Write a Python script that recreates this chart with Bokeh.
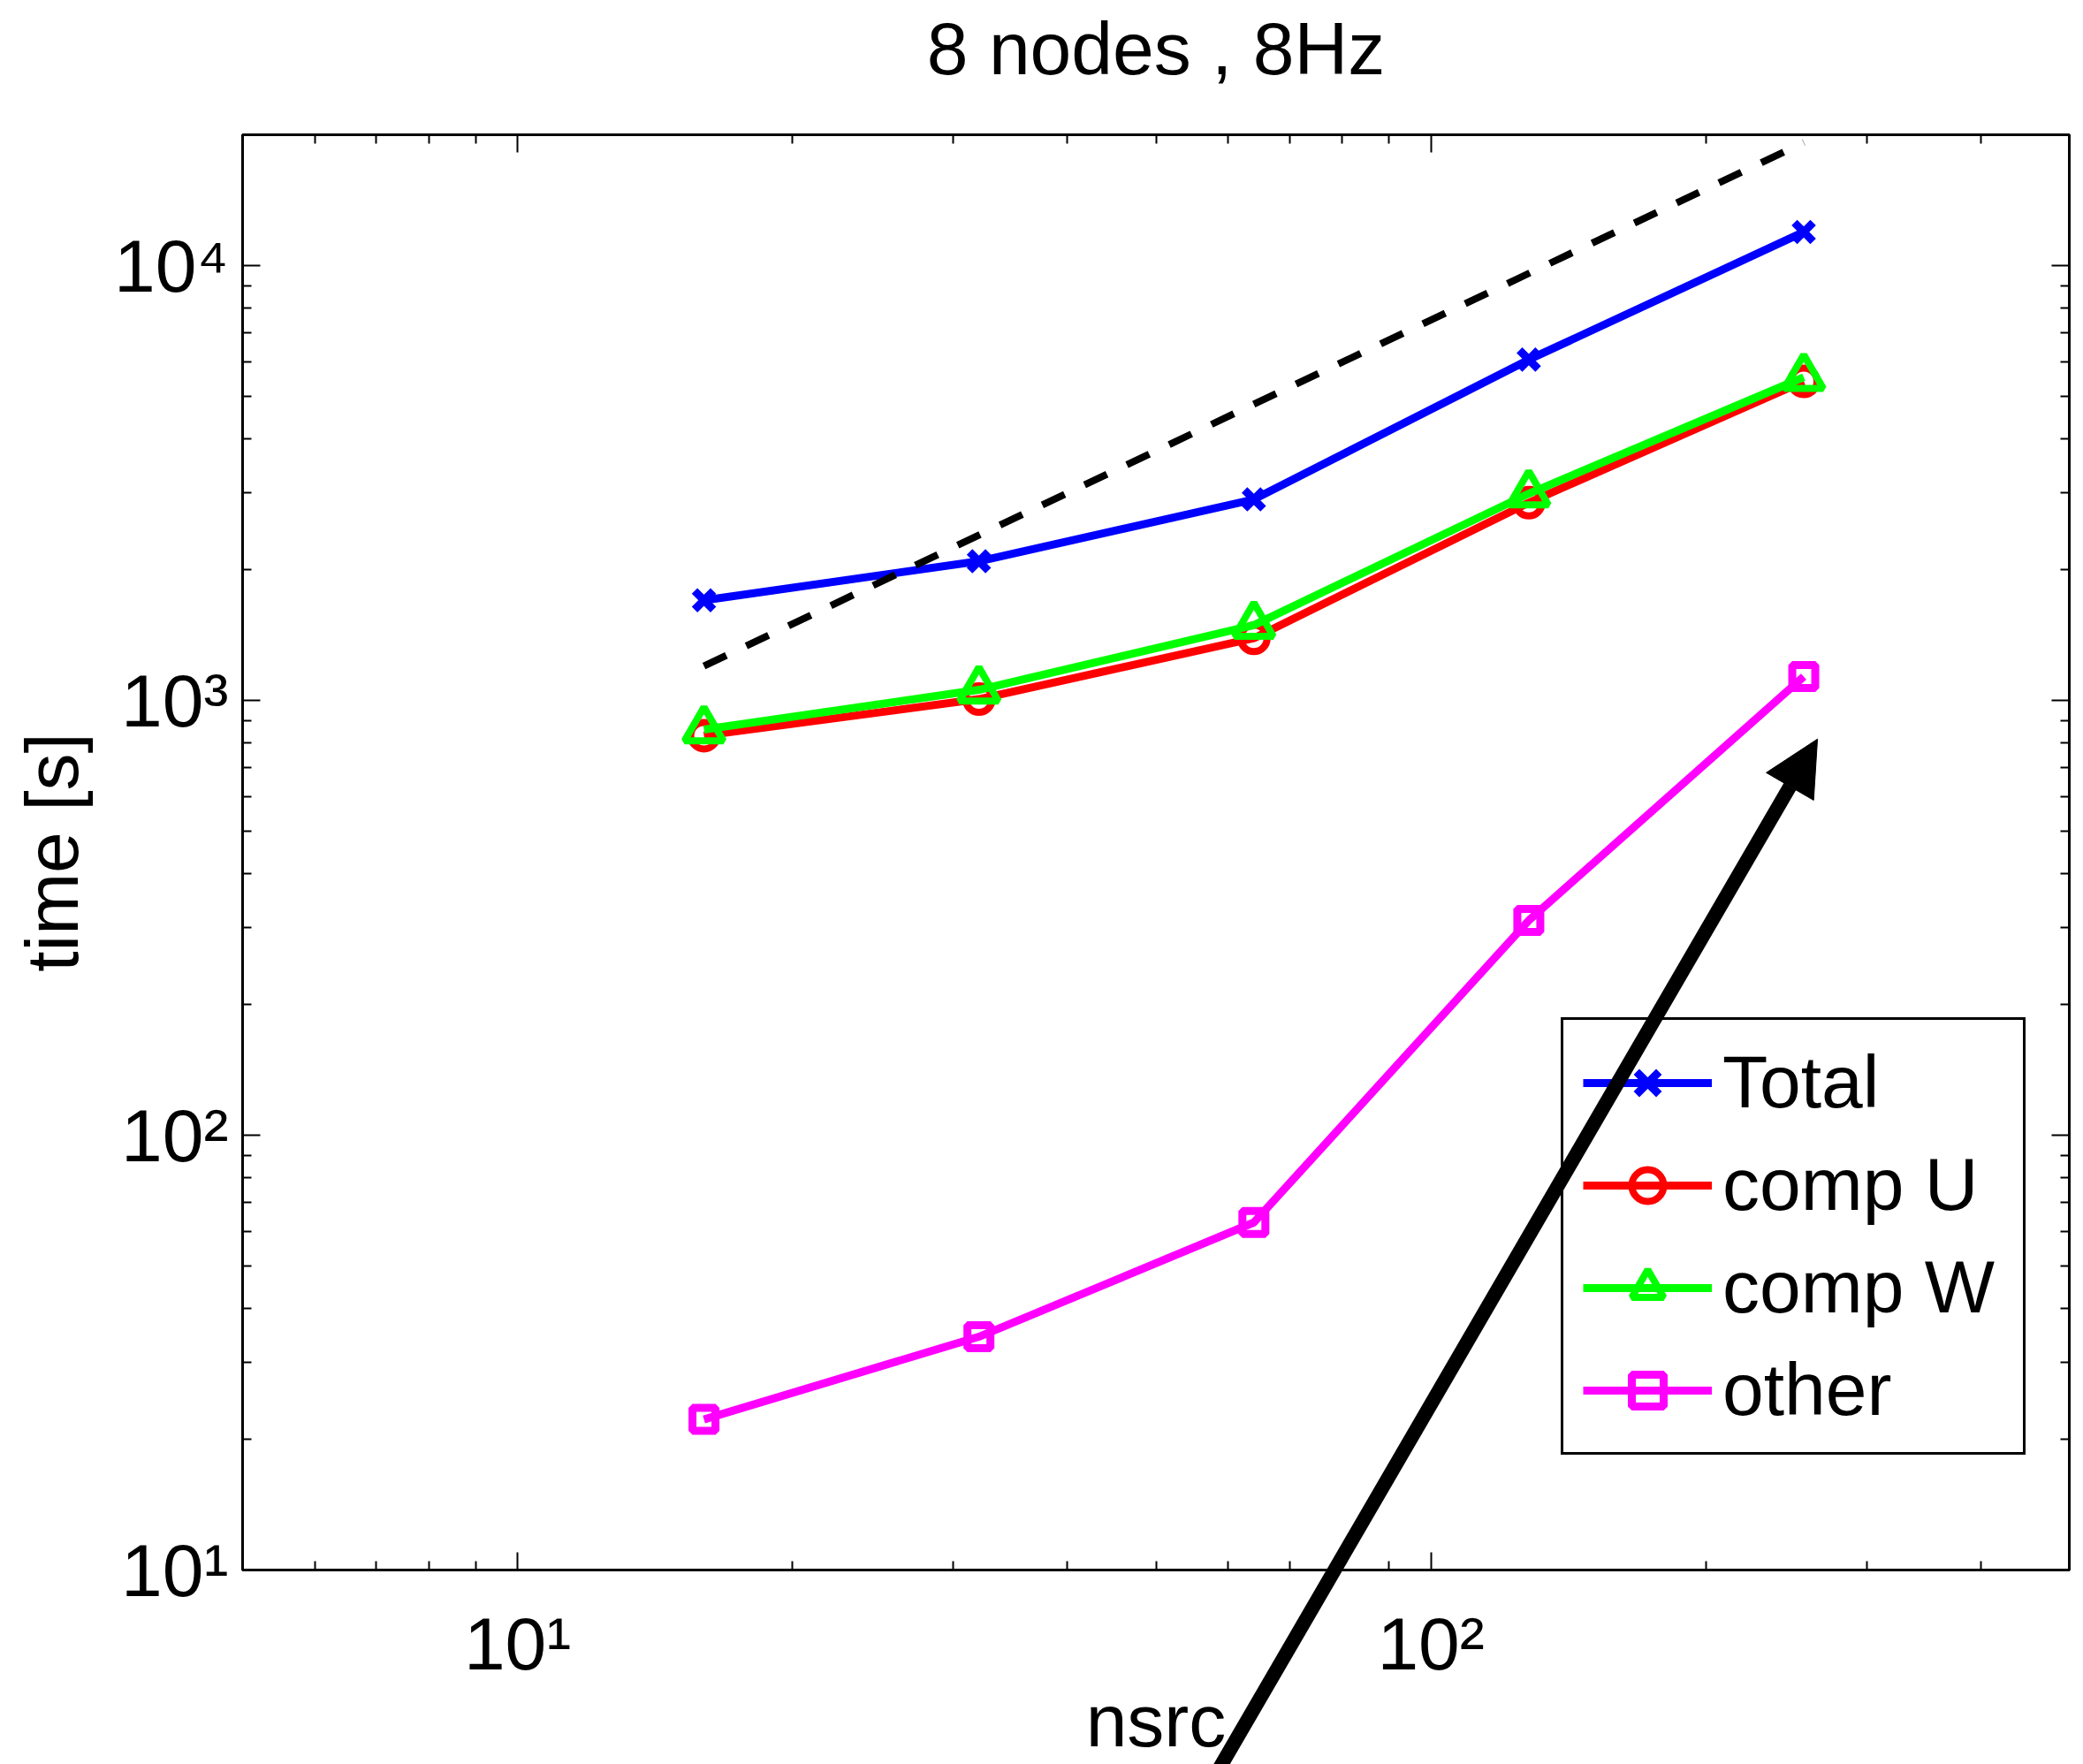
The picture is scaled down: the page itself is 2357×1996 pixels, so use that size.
import math
from bokeh.plotting import figure
from bokeh.models import LogAxis, FixedTicker, Arrow, NormalHead, Range1d, Column, Label
from bokeh.embed import file_html
from bokeh.resources import INLINE

# ---- data ----
nsrc = [16, 32, 64, 128, 256]
total = [1700, 2090, 2900, 6080, 11950]
comp_u = [830, 1007, 1390, 2850, 5420]
comp_w = [857, 1058, 1490, 2990, 5540]
other = [22.2, 34.4, 63, 312, 1135]
ref_x = [16, 256]
ref_y = [1200, 19200]
arrow_start = [51.6, 2.2]
arrow_end = [265, 815]

x_major = [10, 100]
x_minor = [6, 7, 8, 9, 20, 30, 40, 50, 60, 70, 80, 90, 200, 300, 400]
x_tick_labels = ["10¹", "10²"]
y_major = [10, 100, 1000, 10000]
y_minor = [20, 30, 40, 50, 60, 70, 80, 90,
           200, 300, 400, 500, 600, 700, 800, 900,
           2000, 3000, 4000, 5000, 6000, 7000, 8000, 9000]
y_tick_labels = ["10¹", "10²", "10³", "10⁴"]
title_text = "8 nodes , 8Hz"

FONT = "Liberation Sans"
FS = "84px"

W, H = 2357, 1996
BL, BR, BT, BB = 274, 16, 152, 220
X_LO, X_HI = 5, 500
Y_LO, Y_HI = 10, 20000
TITLE_POS = 54  # px from the top of the canvas

p = figure(width=W, height=H, x_axis_type="log", y_axis_type="log",
           x_range=Range1d(X_LO, X_HI), y_range=Range1d(Y_LO, Y_HI),
           output_backend="svg", toolbar_location=None, title=None,
           min_border_left=BL, min_border_right=BR,
           min_border_top=BT, min_border_bottom=BB)
p.background_fill_color = "white"
p.border_fill_color = "white"
p.outline_line_color = "black"
p.outline_line_width = 3
p.xgrid.visible = False
p.ygrid.visible = False

def style_axis(ax, ticks, minor, labels, show):
    ax.ticker = FixedTicker(ticks=ticks, minor_ticks=minor)
    ax.major_tick_in = 20
    ax.major_tick_out = 0
    ax.minor_tick_in = 10
    ax.minor_tick_out = 0
    ax.major_tick_line_width = 2
    ax.minor_tick_line_width = 2
    ax.axis_line_width = 3
    ax.axis_line_color = "black"
    ax.major_tick_line_color = "black"
    ax.minor_tick_line_color = "black"
    if show:
        ax.major_label_overrides = {t: l for t, l in zip(ticks, labels)}
        ax.major_label_text_font = FONT
        ax.major_label_text_font_size = FS
        ax.major_label_text_color = "black"
        ax.axis_label_text_font = FONT
        ax.axis_label_text_font_size = FS
        ax.axis_label_text_font_style = "normal"
        ax.axis_label_text_color = "black"
    else:
        ax.major_label_text_font_size = "1px"
        ax.major_label_text_alpha = 0
        ax.major_label_standoff = 0

style_axis(p.xaxis[0], x_major, x_minor, x_tick_labels, True)
style_axis(p.yaxis[0], y_major, y_minor, y_tick_labels, True)
p.xaxis[0].axis_label = "nsrc"
p.yaxis[0].axis_label = "time [s]"
p.xaxis[0].major_label_standoff = 36
p.xaxis[0].axis_label_standoff = -10
p.yaxis[0].major_label_standoff = 16
p.yaxis[0].axis_label_standoff = 20

top_ax = LogAxis()
style_axis(top_ax, x_major, x_minor, x_tick_labels, False)
p.add_layout(top_ax, "above")
right_ax = LogAxis()
style_axis(right_ax, y_major, y_minor, y_tick_labels, False)
p.add_layout(right_ax, "right")

LW = 9
p.line(nsrc, total, line_color="blue", line_width=LW, legend_label="Total")
p.scatter(nsrc, total, marker="x", size=30, line_color="blue", line_width=9,
          legend_label="Total")
p.line(nsrc, comp_u, line_color="red", line_width=LW, legend_label="comp U")
p.scatter(nsrc, comp_u, marker="circle", size=30, line_color="red", fill_color=None,
          line_width=8, legend_label="comp U")
p.line(nsrc, comp_w, line_color="#00ff00", line_width=LW, legend_label="comp W")
p.scatter(nsrc, comp_w, marker="triangle", size=44, line_color="#00ff00", fill_color=None,
          line_width=8, legend_label="comp W")
p.line(nsrc, other, line_color="magenta", line_width=LW, legend_label="other")
p.scatter(nsrc, other, marker="square", size=26, line_color="magenta", fill_color=None,
          line_width=9, legend_label="other")
p.line(ref_x, ref_y, line_color="black", line_width=8, line_dash="28 25")

lg = p.legend[0]
lg.location = (1492, 130)
lg.label_text_font = FONT
lg.label_text_font_size = FS
lg.label_text_color = "black"
lg.glyph_width = 146
lg.glyph_height = 90
lg.label_height = 90
lg.label_width = 318
lg.label_standoff = 12
lg.spacing = 19
lg.padding = 22
lg.margin = 0
lg.border_line_color = "black"
lg.border_line_alpha = 1.0
lg.border_line_width = 3
lg.background_fill_color = "white"
lg.background_fill_alpha = 1.0

# ---- transparent overlay: same horizontal frame as the axes box, but its
# frame runs over the full canvas height, so the arrow and the title are not
# clipped at the axes box ----
fh = H - BT - BB
ppd_y = fh / math.log10(Y_HI / Y_LO)
oy_lo = Y_LO * 10 ** (-BB / ppd_y)
oy_hi = Y_HI * 10 ** (BT / ppd_y)

p2 = figure(width=W, height=H, x_axis_type="log", y_axis_type="log",
            x_range=Range1d(X_LO, X_HI), y_range=Range1d(oy_lo, oy_hi),
            output_backend="svg", toolbar_location=None, title=None,
            x_axis_location=None, y_axis_location=None,
            min_border_left=BL, min_border_right=BR,
            min_border_top=0, min_border_bottom=0)
p2.xgrid.visible = False
p2.ygrid.visible = False
p2.background_fill_color = None
p2.border_fill_color = None
p2.outline_line_color = None
p2.styles = {"position": "absolute", "top": "0px", "left": "0px"}

title_y = oy_lo * 10 ** ((H - TITLE_POS) / ppd_y)
title = Label(x=math.sqrt(X_LO * X_HI), y=title_y, text=title_text,
              text_align="center", text_baseline="alphabetic",
              text_font=FONT, text_font_size=FS, text_color="black")
p2.add_layout(title)

arr = Arrow(end=NormalHead(size=62, fill_color="black", line_color="black", line_width=1),
            x_start=arrow_start[0], y_start=arrow_start[1],
            x_end=arrow_end[0], y_end=arrow_end[1],
            line_color="black", line_width=16)
p2.add_layout(arr)

root = Column(children=[p, p2], styles={"position": "relative"})
open("out.html", "w").write(file_html(root, INLINE))
